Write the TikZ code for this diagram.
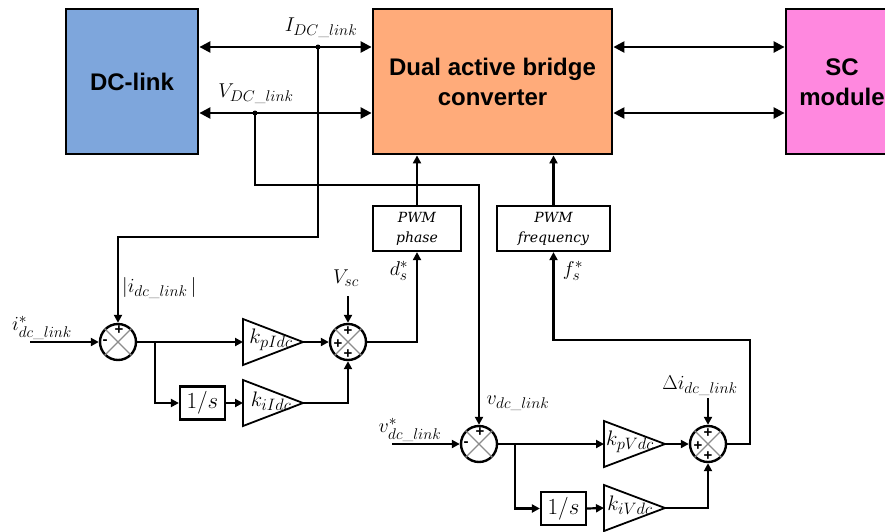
\RequirePackage{fix-cm}
\documentclass[tikz,border=0pt]{standalone}
\usepackage{amsmath}
\usepackage{fontspec}
\setsansfont{Liberation Sans}
\newfontfamily\pwmfont{DejaVu Serif}
\DeclareMathSizes{20}{20}{15.5}{11}
\DeclareMathSizes{21}{21}{16.5}{12}
\DeclareMathSizes{23}{23}{16}{12}
\usetikzlibrary{arrows.meta,shapes.geometric}
\definecolor{dcblue}{HTML}{7EA6DC}
\definecolor{dabor}{HTML}{FFAB7A}
\definecolor{scpink}{HTML}{FF88DF}
\definecolor{xgrey}{HTML}{8C8C8C}
\newcommand{\usc}{\text{\_}}
\begin{document}
\begin{tikzpicture}[x=1pt,y=-1pt,
  big/.style={draw,line width=2.8pt,minimum width=#1,inner sep=0pt,font=\fontsize{24}{30}\selectfont\sffamily\bfseries,align=center},
  bus/.style={line width=2.4pt,{Triangle[length=11pt,width=11pt]}-{Triangle[length=11pt,width=11pt]}},
  sig/.style={line width=2.2pt},
  arr/.style={sig,-{Triangle[length=8pt,width=8pt]}},
  pwm/.style={draw,line width=2.2pt,minimum height=45,inner sep=0pt,font=\fontsize{14}{20}\selectfont\pwmfont\itshape,align=center},
  intbox/.style={draw,line width=2.2pt,minimum width=45,minimum height=33,inner sep=0pt,font=\fontsize{23}{23}\selectfont},
  sumc/.style={draw,circle,line width=2.4pt,minimum size=36,inner sep=0pt},
  gainpath/.style={line width=1.8pt,fill=white},
  lab/.style={inner sep=0pt,font=\fontsize{20}{20}\selectfont},
  klab/.style={inner sep=0pt,font=\fontsize{21}{21}\selectfont},
  sgn/.style={inner sep=0pt,font=\fontsize{15}{15}\selectfont\sffamily\bfseries},
  dot/.style={circle,fill,inner sep=0pt,minimum size=5}]
\useasboundingbox (0,0) rectangle (885,531);
\clip (0,0) rectangle (885,531);

% main blocks
\node[big=132,minimum height=145,fill=dcblue] (dc) at (132,81.5) {DC-link};
\node[big=239,minimum height=145,fill=dabor] (dab) at (492.5,81.5) {Dual active bridge\\converter};
\node[big=112,minimum height=145,fill=scpink,text width=112] (scb) at (842,81.5) {};
\node[inner sep=0pt,font=\fontsize{24}{30}\selectfont\sffamily\bfseries,align=center] (sct) at (842,82) {SC\\module};

% bus junctions
\coordinate (Ij) at (318,47);
\coordinate (Vj) at (255,113);
\draw[bus] (dc.east |- Ij) -- (dab.west |- Ij);
\draw[bus] (dc.east |- Vj) -- (dab.west |- Vj);
\draw[bus] (dab.east |- Ij) -- (scb.west |- Ij);
\draw[bus] (dab.east |- Vj) -- (scb.west |- Vj);
\node[dot] (Ijd) at (Ij) {};
\node[dot] (Vjd) at (Vj) {};
\node[lab] (lI) at (321,28) {$I_{DC\usc link}$};
\node[lab] (lV) at (256,94) {$V_{DC\usc link}$};

% PWM boxes
\node[pwm,minimum width=88] (pwmp) at (417,228.5) {PWM\\phase};
\node[pwm,minimum width=113] (pwmf) at (553.5,228.5) {PWM\\frequency};
\draw[arr] (pwmp.north) -- (pwmp.north |- dab.south);
\draw[arr] (pwmf.north) -- (pwmf.north |- dab.south);

% ---------- current loop ----------
\node[sumc] (s1) at (118,342) {};
\node[sumc] (s2) at (348,342) {};
\foreach \s in {s1,s2}{
  \draw[xgrey,line width=1.3pt] (\s.north west) -- (\s.south east);
  \draw[xgrey,line width=1.3pt] (\s.north east) -- (\s.south west);
}
\node[sgn] (s1p) at (119,330) {+};
\node[sgn] (s1m) at (105,342) {-};
\node[sgn] (s2pt) at (348,331) {+};
\node[sgn] (s2pl) at (338,344) {+};
\node[sgn] (s2pb) at (348,354) {+};

\node[intbox] (int1) at (202.5,403) {$1/s$};
\coordinate (kp1in) at (243,342);
\coordinate (kp1out) at (303,342);
\coordinate (ki1in) at (243,403);
\coordinate (ki1out) at (303,403);
\draw[gainpath] (243,319) -- (243,365) -- (kp1out) -- cycle;
\draw[gainpath] (243,380) -- (243,426) -- (ki1out) -- cycle;
\node[klab] (kp1) at (271,340) {$k_{pIdc}$};
\node[klab] (ki1) at (271,401) {$k_{iIdc}$};

\coordinate (iin) at (30,342);
\coordinate (t1) at (318,237);
\coordinate (br1) at (155,342);
\coordinate (vsc) at (348,296);
\draw[arr] (iin) -- (s1.west);
\draw[arr] (Ij) -- (t1) -| (s1.north);
\draw[arr] (s1.east) -- (kp1in);
\draw[arr] (br1) |- (int1.west);
\draw[arr] (int1.east) -- (ki1in);
\draw[arr] (kp1out) -- (s2.west);
\draw[arr] (ki1out) -| (s2.south);
\draw[arr] (vsc) -- (s2.north);
\draw[arr] (s2.east) -| (pwmp.south);

\node[lab] (listar) at (42,328) {$i^*_{dc\usc link}$};
\node[lab,anchor=west] (liabs) at (122,288) {$|i_{dc\usc link}\,|$};
\node[lab] (lvsc) at (346,278) {$V_{sc}$};
\node[lab] (lds) at (399,271) {$d_s^*$};
\node[lab] (lfs) at (573,271) {$f_s^*$};

% ---------- voltage loop ----------
\node[sumc] (s3) at (479,444) {};
\node[sumc] (s4) at (708,444) {};
\foreach \s in {s3,s4}{
  \draw[xgrey,line width=1.3pt] (\s.north west) -- (\s.south east);
  \draw[xgrey,line width=1.3pt] (\s.north east) -- (\s.south west);
}
\node[sgn] (s3p) at (480,432) {+};
\node[sgn] (s3m) at (466,444) {-};
\node[sgn] (s4pt) at (708,433) {+};
\node[sgn] (s4pl) at (698,446) {+};
\node[sgn] (s4pb) at (708,456) {+};

\node[intbox] (int2) at (563.5,508.5) {$1/s$};
\coordinate (kp2in) at (604,444);
\coordinate (kp2out) at (665,444);
\coordinate (ki2in) at (604,508);
\coordinate (ki2out) at (665,508);
\draw[gainpath] (604,421) -- (604,467) -- (kp2out) -- cycle;
\draw[gainpath] (604,485) -- (604,531) -- (ki2out) -- cycle;
\node[klab] (kp2) at (630,442) {$k_{pVdc}$};
\node[klab] (ki2) at (630,505) {$k_{iVdc}$};

\coordinate (vin) at (392,444);
\coordinate (t2) at (255,185);
\coordinate (br2) at (515,444);
\coordinate (dii) at (708,398);
\coordinate (fr) at (750,340);
\draw[arr] (vin) -- (s3.west);
\draw[arr] (Vj) -- (t2) -| (s3.north);
\draw[arr] (s3.east) -- (kp2in);
\draw[arr] (br2) |- (int2.west);
\draw[arr] (int2.east) -- (ki2in);
\draw[arr] (kp2out) -- (s4.west);
\draw[arr] (ki2out) -| (s4.south);
\draw[arr] (dii) -- (s4.north);
\draw[arr] (s4.east) -| (fr) -| (pwmf.south);

\node[lab] (lvstar) at (410,430) {$v^*_{dc\usc link}$};
\node[lab] (lv) at (518,403) {$v_{dc\usc link}$};
\node[lab] (ldi) at (700,386) {$\Delta i_{dc\usc link}$};
\end{tikzpicture}
\end{document}
